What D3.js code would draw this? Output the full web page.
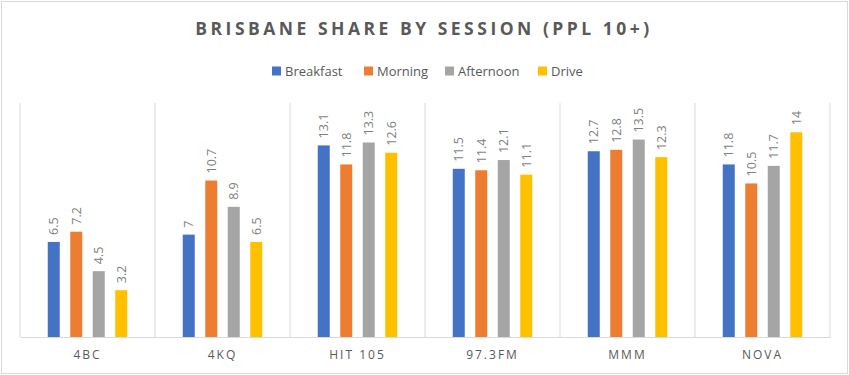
<html>
<head>
<meta charset="utf-8">
<title>Brisbane Share by Session</title>
<style>
  body { margin: 0; background: #fff; }
  text { font-family: "Open Sans", "Liberation Sans", sans-serif; fill: #595959; }
</style>
<script src="https://d3js.org/d3.v7.min.js"></script>
</head>
<body>
<svg width="849" height="375"></svg>
<script>
var stations = ["4BC", "4KQ", "HIT 105", "97.3FM", "MMM", "NOVA"];
var sessions = ["Breakfast", "Morning", "Afternoon", "Drive"];
var breakfast = [6.5, 7, 13.1, 11.5, 12.7, 11.8];
var morning = [7.2, 10.7, 11.8, 11.4, 12.8, 10.5];
var afternoon = [4.5, 8.9, 13.3, 12.1, 13.5, 11.7];
var drive = [3.2, 6.5, 12.6, 11.1, 12.3, 14];
var colors = ["#4472C4", "#ED7D31", "#A5A5A5", "#FFC000"];

var series = [breakfast, morning, afternoon, drive];

var svg = d3.select("svg"),
    margin = {top: 103, right: 19, bottom: 38, left: 20},
    width = +svg.attr("width") - margin.left - margin.right,
    height = +svg.attr("height") - margin.top - margin.bottom;

// chart border
svg.append("rect")
  .attr("x", 1.5).attr("y", 1.5)
  .attr("width", 846).attr("height", 372)
  .attr("fill", "none").attr("stroke", "#d9d9d9");

var g = svg.append("g").attr("transform", `translate(${margin.left},${margin.top})`);

var x0 = d3.scaleBand().domain(stations).range([0, width]);
var x1 = d3.scaleBand().domain(sessions).range([x0.bandwidth()/2 - 45, x0.bandwidth()/2 + 45]);
var y = d3.scaleLinear().domain([0, 16]).range([height, 0]);
var barW = 12;

// vertical separators
g.selectAll(".sep")
  .data(d3.range(stations.length + 1))
  .enter().append("line")
  .attr("x1", i => i * x0.step()).attr("x2", i => i * x0.step())
  .attr("y1", 0).attr("y2", height)
  .attr("stroke", "#d9d9d9").attr("stroke-width", 1);

var groups = g.selectAll(".grp")
  .data(stations)
  .enter().append("g")
  .attr("transform", d => `translate(${x0(d)},0)`);

groups.each(function(st, si) {
  var grp = d3.select(this);
  sessions.forEach(function(se, k) {
    var v = series[k][si];
    var cx = x1(se) + x1.bandwidth()/2;
    grp.append("rect")
      .attr("x", cx - barW/2)
      .attr("y", y(v))
      .attr("width", barW)
      .attr("height", height - y(v))
      .attr("fill", colors[k]);
    grp.append("text")
      .attr("transform", `translate(${cx + 4.5},${y(v) - 7}) rotate(-90)`)
      .attr("font-size", 12.5)
      .style("fill", "#7f7f7f")
      .text(v);
  });
});

// x axis
var xAxis = g.append("g")
  .attr("transform", `translate(0,${height})`)
  .call(d3.axisBottom(x0).tickSize(0).tickPadding(13));
xAxis.select(".domain").attr("stroke", "#d9d9d9");
xAxis.selectAll("text")
  .attr("font-size", 12)
  .attr("letter-spacing", "2px")
  .style("fill", "#595959")
  .attr("font-family", "'Open Sans', sans-serif");

// title
svg.append("text")
  .attr("x", 424).attr("y", 34.5)
  .attr("text-anchor", "middle")
  .attr("font-size", 17.5)
  .attr("font-weight", "bold")
  .attr("letter-spacing", "3.5px")
  .text("BRISBANE SHARE BY SESSION (PPL 10+)");

// legend
var legendX = [272, 364, 445, 538];
var legend = svg.selectAll(".lg")
  .data(sessions)
  .enter().append("g")
  .attr("transform", (d, i) => `translate(${legendX[i]},71)`);
legend.append("rect")
  .attr("x", 0).attr("y", -4.5)
  .attr("width", 9).attr("height", 9)
  .attr("fill", (d, i) => colors[i]);
legend.append("text")
  .attr("x", 13).attr("y", 0)
  .attr("dy", "0.35em")
  .attr("font-size", 13)
  .text(d => d);
</script>
</body>
</html>
